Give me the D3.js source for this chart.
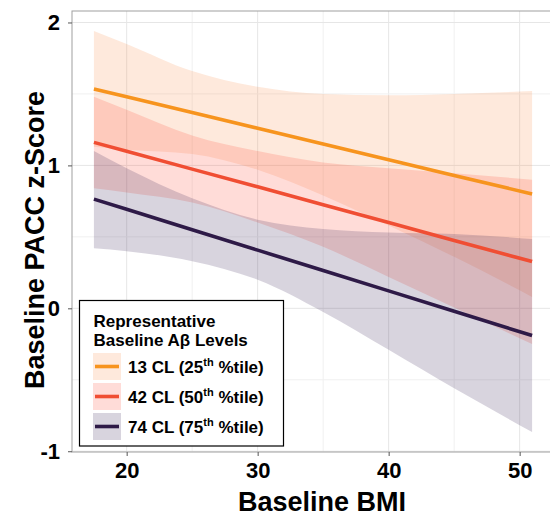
<!DOCTYPE html>
<html>
<head>
<meta charset="utf-8">
<script src="https://cdn.jsdelivr.net/npm/d3@7"></script>
<style>
  body { margin: 0; background: #fff; }
  svg { display: block; font-family: "Liberation Sans", Arial, Helvetica, sans-serif; }
</style>
</head>
<body>
<svg width="550" height="517"></svg>
<script>
// data
const bmi = [17.5, 20, 25, 30, 35, 40, 45, 50.95];
const levels = ['13 CL', '42 CL', '74 CL'];
const pctiles = ['25', '50', '75'];
const fit13 = [1.535, 1.48, 1.37, 1.26, 1.15, 1.04, 0.93, 0.80];
const lo13  = [1.13, 1.11, 1.08, 0.97, 0.79, 0.58, 0.36, 0.08];
const hi13  = [1.94, 1.85, 1.66, 1.55, 1.50, 1.49, 1.50, 1.52];
const fit42 = [1.161, 1.099, 0.974, 0.85, 0.725, 0.60, 0.475, 0.327];
const lo42  = [0.84, 0.81, 0.74, 0.60, 0.43, 0.22, 0.005, -0.25];
const hi42  = [1.48, 1.39, 1.21, 1.10, 1.02, 0.98, 0.945, 0.90];
const fit74 = [0.764, 0.693, 0.55, 0.407, 0.265, 0.122, -0.021, -0.19];
const lo74  = [0.42, 0.40, 0.33, 0.20, -0.025, -0.29, -0.56, -0.865];
const hi74  = [1.10, 0.98, 0.77, 0.62, 0.555, 0.53, 0.52, 0.485];
const xTicks = [20, 30, 40, 50];
const yTicks = [-1, 0, 1, 2];

const colors = ['#F7941E', '#F04E33', '#2E1A47'];
const fills = ['#FA9150', '#FF503C', '#3E2858'];
const series = [
    {fit: fit13, lo: lo13, hi: hi13},
    {fit: fit42, lo: lo42, hi: hi42},
    {fit: fit74, lo: lo74, hi: hi74}
].map((s, i) => ({
    level: levels[i],
    pct: pctiles[i],
    color: colors[i],
    fill: fills[i],
    pts: bmi.map((b, j) => ({x: b, fit: s.fit[j], lo: s.lo[j], hi: s.hi[j]}))
}));

const svg = d3.select('svg');
const panel = {left: 72, right: 554, top: 11, bottom: 452};

// ggplot style 5% expansion
function expand(ext) {
    const pad = (ext[1] - ext[0]) * 0.05;
    return [ext[0] - pad, ext[1] + pad];
}
const yAll = [].concat(lo13, lo42, lo74, hi13, hi42, hi74);
const x = d3.scaleLinear().domain(expand(d3.extent(bmi))).range([panel.left, panel.right]);
const y = d3.scaleLinear().domain(expand(d3.extent(yAll))).range([panel.bottom, panel.top]);

// grid
const grid = svg.append('g');
const xMinor = d3.range(15, 55, 5).filter(v => v > x.domain()[0] && v < x.domain()[1]);
const yMinor = d3.range(-1, 2.5, 0.5).filter(v => v > y.domain()[0] && v < y.domain()[1]);
grid.selectAll('.vx').data(xMinor).enter().append('line')
    .attr('x1', d => x(d)).attr('x2', d => x(d))
    .attr('y1', panel.top).attr('y2', panel.bottom)
    .style('stroke', d => d % 10 === 0 ? '#E6E6E6' : '#F0F0F0').style('stroke-width', 1);
grid.selectAll('.hy').data(yMinor).enter().append('line')
    .attr('y1', d => y(d)).attr('y2', d => y(d))
    .attr('x1', panel.left).attr('x2', panel.right)
    .style('stroke', d => d % 1 === 0 ? '#E6E6E6' : '#F0F0F0').style('stroke-width', 1);

// ribbons
const area = d3.area().x(d => x(d.x)).y0(d => y(d.lo)).y1(d => y(d.hi)).curve(d3.curveMonotoneX);
svg.append('g').selectAll('path').data(series).enter().append('path')
    .attr('d', d => area(d.pts))
    .style('fill', d => d.fill).style('fill-opacity', 0.2);

// lines
const line = d3.line().x(d => x(d.x)).y(d => y(d.fit));
svg.append('g').selectAll('path').data(series).enter().append('path')
    .attr('d', d => line(d.pts))
    .style('fill', 'none').style('stroke', d => d.color).style('stroke-width', 3.6);

// panel border
svg.append('rect')
    .attr('x', panel.left).attr('y', panel.top)
    .attr('width', panel.right - panel.left).attr('height', panel.bottom - panel.top)
    .style('fill', 'none').style('stroke', '#A0A0A0').style('stroke-width', 1);

// axes
const xAxis = svg.append('g').attr('transform', `translate(0,${panel.bottom})`)
    .call(d3.axisBottom(x).tickValues(xTicks).tickSize(4).tickPadding(6).tickFormat(d => String(d)));
const yAxis = svg.append('g').attr('transform', `translate(${panel.left},0)`)
    .call(d3.axisLeft(y).tickValues(yTicks).tickSize(4).tickPadding(8).tickFormat(d => String(d)));
[xAxis, yAxis].forEach(a => {
    a.select('.domain').remove();
    a.selectAll('.tick line').style('stroke', '#555');
    a.selectAll('.tick text').style('font-size', '22px').style('font-weight', 'bold')
        .style('fill', '#000').attr('font-family', null);
});

// titles
svg.append('text').attr('x', 322).attr('y', 511).attr('text-anchor', 'middle')
    .style('font-size', '27px').style('font-weight', 'bold').text('Baseline BMI');
svg.append('text').attr('transform', 'translate(44,240) rotate(-90)').attr('text-anchor', 'middle')
    .style('font-size', '27px').style('font-weight', 'bold').text('Baseline PACC z-Score');

// legend
const lg = svg.append('g');
lg.append('rect').attr('x', 79.5).attr('y', 300.5).attr('width', 204).attr('height', 145.5)
    .style('fill', '#fff').style('stroke', '#000').style('stroke-width', 1.2);
lg.append('text').attr('x', 93.5).attr('y', 326.5)
    .style('font-size', '17px').style('font-weight', 'bold').text('Representative');
lg.append('text').attr('x', 93.5).attr('y', 345.5)
    .style('font-size', '17px').style('font-weight', 'bold').text('Baseline A\u03B2 Levels');
const keys = lg.selectAll('.legend').data(series).enter().append('g')
    .attr('class', 'legend')
    .attr('transform', (d, i) => `translate(93,${353 + i * 30})`);
keys.append('rect').attr('width', 28).attr('height', 27)
    .style('fill', d => d.fill).style('fill-opacity', 0.2);
keys.append('line').attr('x1', 2).attr('x2', 26).attr('y1', 13.5).attr('y2', 13.5)
    .style('stroke', d => d.color).style('stroke-width', 3.6);
const lab = keys.append('text').attr('x', 35).attr('y', 19.5)
    .style('font-size', '17px').style('font-weight', 'bold');
lab.append('tspan').text(d => `${d.level} (${d.pct}`);
lab.append('tspan').attr('dy', -7).style('font-size', '11px').text('th');
lab.append('tspan').attr('dy', 7).text(' %tile)');
</script>
</body>
</html>
